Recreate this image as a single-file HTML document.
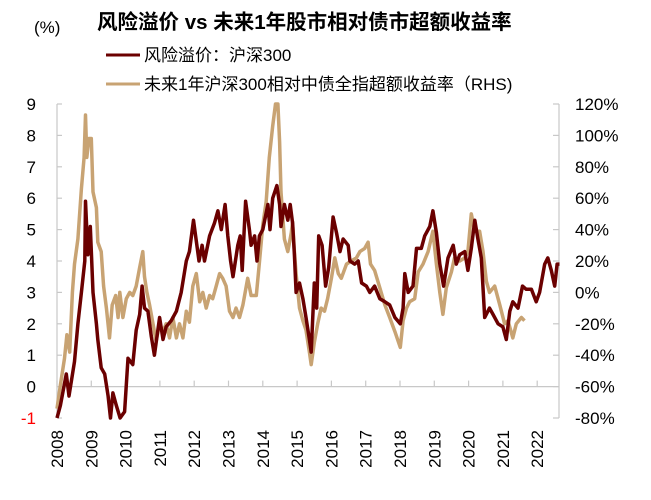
<!DOCTYPE html>
<html><head><meta charset="utf-8">
<style>
body{margin:0;background:#fff;}
svg text{font-family:"Liberation Sans","Noto Sans CJK SC",sans-serif;}
</style></head>
<body>
<svg id="chart" width="651" height="495" xmlns="http://www.w3.org/2000/svg">
<text x="97" y="29" font-size="20.5" font-weight="bold" fill="#000">风险溢价 vs 未来1年股市相对债市超额收益率</text>
<text x="34" y="33" font-size="17" fill="#000">(%)</text>
<g>
<line x1="106" y1="55" x2="140" y2="55" stroke="#6B0000" stroke-width="3"/>
<text x="144" y="61" font-size="17" fill="#000">风险溢价：沪深300</text>
<line x1="106" y1="84" x2="140" y2="84" stroke="#C8A373" stroke-width="3"/>
<text x="144" y="90" font-size="17" fill="#000">未来1年沪深300相对中债全指超额收益率（RHS)</text>
</g>
<g id="axes"></g>
<g id="series"></g>
</svg>
<script>
const leftTicks=[9,8,7,6,5,4,3,2,1,0,-1];
const rightTicks=["120%","100%","80%","60%","40%","20%","0%","-20%","-40%","-60%","-80%"];
const yearLabels=[2008,2009,2010,2011,2012,2013,2014,2015,2016,2017,2018,2019,2020,2021,2022];
const rpYears=[2008.00,2008.10,2008.27,2008.35,2008.51,2008.61,2008.71,2008.81,2008.83,2008.90,2008.97,2009.05,2009.15,2009.19,2009.29,2009.39,2009.49,2009.56,2009.63,2009.73,2009.84,2009.97,2010.07,2010.21,2010.31,2010.41,2010.48,2010.55,2010.65,2010.75,2010.84,2010.99,2011.09,2011.18,2011.33,2011.48,2011.62,2011.77,2011.86,2011.98,2012.04,2012.14,2012.23,2012.30,2012.45,2012.59,2012.69,2012.79,2012.90,2012.98,2013.06,2013.13,2013.27,2013.34,2013.40,2013.50,2013.61,2013.66,2013.76,2013.83,2013.90,2014.00,2014.15,2014.21,2014.29,2014.41,2014.49,2014.53,2014.63,2014.73,2014.80,2014.87,2014.92,2014.97,2015.07,2015.17,2015.26,2015.36,2015.41,2015.50,2015.57,2015.63,2015.73,2015.83,2015.92,2016.05,2016.15,2016.25,2016.34,2016.49,2016.54,2016.68,2016.78,2016.88,2017.02,2017.12,2017.26,2017.41,2017.56,2017.70,2017.85,2018.01,2018.09,2018.14,2018.24,2018.38,2018.48,2018.62,2018.72,2018.87,2018.96,2019.06,2019.16,2019.27,2019.40,2019.55,2019.64,2019.74,2019.89,2019.98,2020.08,2020.18,2020.27,2020.37,2020.47,2020.61,2020.71,2020.86,2021.00,2021.10,2021.20,2021.29,2021.44,2021.57,2021.68,2021.83,2021.97,2022.07,2022.22,2022.31,2022.41,2022.51,2022.58,2022.65];
const rpValues=[-1.0,-0.6,0.4,-0.3,0.8,2.0,3.0,4.0,5.9,4.2,5.1,3.0,2.0,1.5,0.6,0.4,-0.3,-1.0,-0.2,-0.6,-1.0,-0.8,0.9,0.7,1.8,2.3,3.2,2.5,2.4,1.6,1.0,2.2,1.5,1.9,2.1,2.4,3.0,4.0,4.3,5.3,4.8,4.0,4.5,4.0,4.8,5.2,5.6,5.0,5.8,4.8,4.0,3.5,4.5,4.8,3.7,5.9,5.0,4.5,4.8,4.0,4.8,5.0,5.8,5.0,6.0,6.4,5.8,5.1,5.8,5.3,5.8,5.2,4.2,3.0,3.3,2.8,2.2,1.5,1.1,3.3,2.5,4.8,4.5,3.2,3.8,5.4,4.9,4.3,4.7,4.5,4.0,3.9,4.0,3.3,3.2,3.0,3.2,2.8,2.7,2.6,2.2,2.0,2.5,3.6,3.0,3.2,4.4,4.4,4.8,5.1,5.6,4.9,3.9,3.2,4.1,4.5,3.9,4.2,4.3,3.7,4.4,5.3,4.7,4.1,2.2,2.5,2.3,2.0,1.9,1.5,2.4,2.7,2.5,3.2,3.1,3.1,2.7,3.0,3.9,4.1,3.7,3.2,3.9,3.9];
const erYears=[2008.00,2008.10,2008.22,2008.29,2008.37,2008.45,2008.51,2008.61,2008.71,2008.79,2008.83,2008.87,2008.93,2009.00,2009.05,2009.15,2009.19,2009.29,2009.36,2009.44,2009.53,2009.61,2009.71,2009.78,2009.83,2009.92,2010.02,2010.12,2010.21,2010.31,2010.41,2010.50,2010.55,2010.62,2010.70,2010.80,2010.89,2010.99,2011.09,2011.18,2011.28,2011.38,2011.48,2011.57,2011.67,2011.77,2011.86,2011.96,2012.06,2012.16,2012.25,2012.35,2012.45,2012.54,2012.64,2012.74,2012.83,2012.93,2013.03,2013.13,2013.22,2013.32,2013.42,2013.51,2013.56,2013.66,2013.81,2013.90,2014.00,2014.10,2014.19,2014.29,2014.37,2014.44,2014.49,2014.53,2014.63,2014.73,2014.83,2014.87,2014.92,2014.97,2015.07,2015.17,2015.26,2015.36,2015.41,2015.50,2015.60,2015.70,2015.80,2015.89,2016.00,2016.10,2016.20,2016.29,2016.44,2016.58,2016.73,2016.83,2016.97,2017.07,2017.14,2017.26,2017.41,2017.56,2017.70,2017.85,2018.01,2018.09,2018.19,2018.28,2018.43,2018.53,2018.67,2018.82,2018.96,2019.06,2019.16,2019.25,2019.35,2019.50,2019.59,2019.74,2019.89,2019.98,2020.08,2020.18,2020.32,2020.42,2020.52,2020.61,2020.76,2020.91,2021.05,2021.15,2021.29,2021.39,2021.54,2021.63];
const erValues=[-74,-59,-42,-27,-38,0,18,34,66,86,113,86,98,98,64,54,32,26,4,-10,-29,-8,-2,-16,0,-16,-4,0,-2,4,16,26,10,0,-8,-20,-31,-20,-25,-20,-29,-16,-29,-20,-29,-12,-19,4,12,-6,0,-10,-2,-4,4,12,9,4,-12,-16,-10,-16,-8,3,9,-2,-2,19,43,58,86,106,120,120,96,64,34,26,38,45,26,12,-10,-18,-24,-38,-46,-32,-20,-10,-12,-4,9,22,12,9,18,20,22,26,28,32,18,14,3,-8,-16,-25,-35,-18,-10,-6,-4,13,18,26,39,18,0,-14,3,13,22,20,22,26,50,39,39,26,7,0,4,-8,-20,-18,-29,-20,-16,-18];

const NS="http://www.w3.org/2000/svg";
const X0=57,X1=559,Y9=104,Ym1=418;
function xScale(y){return X0+(y-2008)*34.3;}
function yLeft(v){return Ym1-(v+1)*(Ym1-Y9)/10;}
function yRight(p){return yLeft(p/20+3);}
const axes=document.getElementById('axes');
const series=document.getElementById('series');
function mk(tag,attrs,parent){const e=document.createElementNS(NS,tag);for(const k in attrs)e.setAttribute(k,attrs[k]);parent.appendChild(e);return e;}
const gc="#C8C8C8";
let e=mk('line',{x1:X0,y1:Y9,x2:X0,y2:Ym1,stroke:gc,'stroke-width':1.2},axes);


e=mk('line',{x1:X1,y1:Y9,x2:X1,y2:Ym1,stroke:gc,'stroke-width':1.2},axes);


e=mk('line',{x1:X0,y1:yLeft(0),x2:X1,y2:yLeft(0),stroke:gc,'stroke-width':1.2},axes);


leftTicks.forEach(v=>{
  const y=yLeft(v);
  const t=mk('line',{x1:X0,y1:y,x2:X0+5,y2:y,stroke:gc,'stroke-width':1.2},axes);
  
  
  const l=mk('text',{x:36,y:y+6,'font-size':17,'text-anchor':'end',fill:v<0?'#FF0000':'#000'},axes);
  l.textContent=v;
  
  
});
rightTicks.forEach((s,i)=>{
  const y=yRight(120-20*i);
  const t=mk('line',{x1:X1-6,y1:y,x2:X1,y2:y,stroke:gc,'stroke-width':1.2},axes);
  
  
  const l=mk('text',{x:575,y:y+6,'font-size':17,fill:'#000'},axes);
  l.textContent=s;
  
  
});
yearLabels.forEach(yr=>{
  const x=xScale(yr);
  const t=mk('line',{x1:x,y1:yLeft(0),x2:x,y2:yLeft(0)-6,stroke:gc,'stroke-width':1.2},axes);
  
  
  const l=mk('text',{x:0,y:0,'font-size':17,'text-anchor':'end',fill:'#000',transform:`translate(${x+6},430) rotate(-90)`},axes);
  l.textContent=yr;
  
  
});
function path(xs,vs,ys){return xs.map((x,i)=>(i?'L':'M')+xScale(x).toFixed(1)+','+ys(vs[i]).toFixed(1)).join('');}
const p2=mk('path',{d:path(erYears,erValues,yRight),fill:'none',stroke:'#C8A373','stroke-width':3.5,'stroke-linejoin':'round'},series);


const p1=mk('path',{d:path(rpYears,rpValues,yLeft),fill:'none',stroke:'#6B0000','stroke-width':3.5,'stroke-linejoin':'round'},series);


</script>
</body></html>
